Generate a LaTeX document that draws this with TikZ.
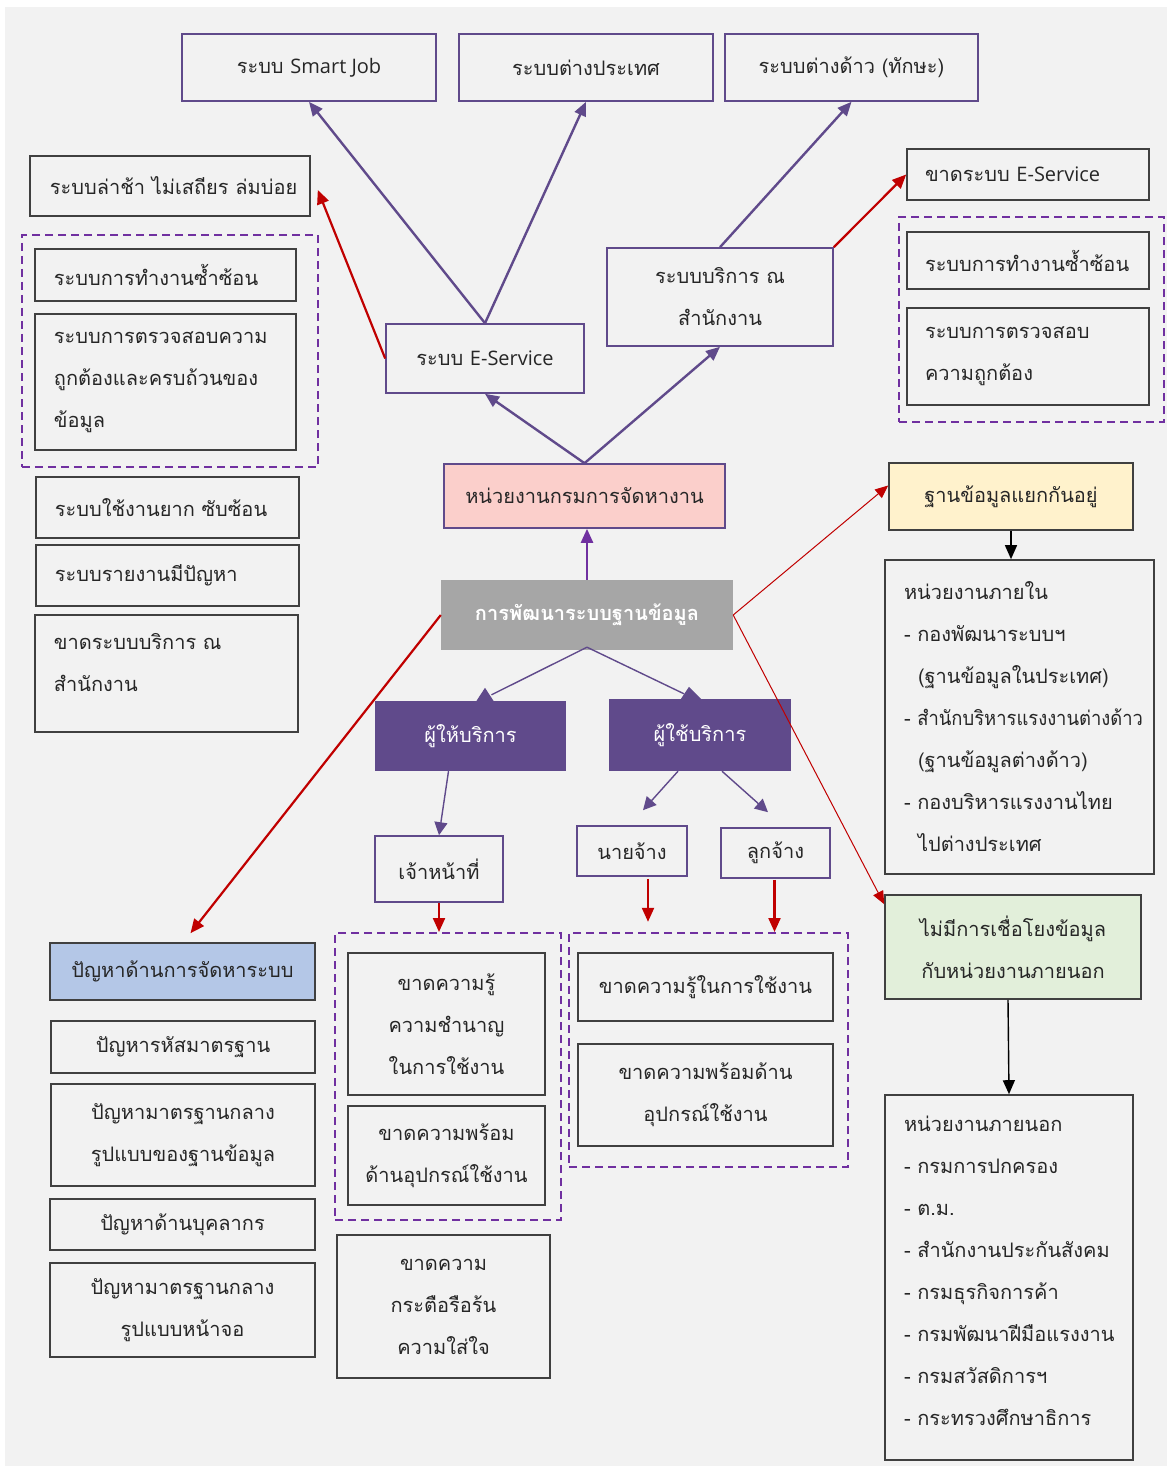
\documentclass[tikz,border=0pt]{standalone}
\usepackage{fontspec}
\usepackage{graphicx}
\setmainfont[Script=Thai]{Loma}
\newfontfamily\lat{Open Sans}
\usetikzlibrary{arrows.meta,calc}
\definecolor{bgc}{HTML}{F2F2F2}
\definecolor{pur}{HTML}{604A8B}
\definecolor{dpur}{HTML}{7030A0}
\definecolor{redc}{HTML}{C00000}
\definecolor{dk}{HTML}{404040}
\definecolor{txtc}{HTML}{262626}
\definecolor{pinkc}{HTML}{FBCFCB}
\definecolor{grayc}{HTML}{A6A6A6}
\definecolor{yelc}{HTML}{FFF2CC}
\definecolor{grnc}{HTML}{E2EFDA}
\definecolor{bluc}{HTML}{B4C7E7}
\tikzset{
  base/.style={rectangle, line width=1.6bp, inner sep=0pt, align=center, fill=bgc, text=txtc},
  pbox/.style={base, draw=pur},
  dbox/.style={base, draw=dk},
  lbox/.style={dbox, align=left},
  solid/.style={rectangle, inner sep=0pt, align=center, draw=none, text=white},
  grp/.style={rectangle, inner sep=0pt, draw=dpur, line width=2bp, dash pattern=on 8bp off 5bp},
  parr/.style={draw=pur, line width=2.4bp, -{Triangle[length=14bp,width=12bp]}},
  dparr/.style={draw=dpur, line width=2.4bp, -{Triangle[length=14bp,width=12bp]}},
  rarr/.style={draw=redc, line width=2.2bp, -{Triangle[length=14bp,width=12bp]}},
  rthin/.style={draw=redc, line width=1bp, -{Triangle[length=13bp,width=11bp]}},
  pthin/.style={draw=pur, line width=1.4bp, -{Triangle[length=13bp,width=13bp]}},
  pline/.style={draw=pur, line width=1.4bp},
  karr/.style={draw=black, line width=1.4bp, -{Triangle[length=14bp,width=12bp]}},
  tri/.style={fill=pur, draw=none},
}
\newcommand{\ind}{\hspace*{14bp}}
\begin{document}
\begin{tikzpicture}[x=1bp, y=-1bp, font=\fontsize{20bp}{42bp}\selectfont]
\useasboundingbox (0,0) rectangle (1171,1470);
\fill[white] (0,0) rectangle (1171,1470);
\fill[bgc] (5,7) rectangle (1167,1466);

% top row
\node[pbox, minimum width=254bp, minimum height=67bp] (sj) at (309,67.5) {ระบบ {\lat Smart Job}};
\node[pbox, minimum width=254bp, minimum height=67bp] (fo) at (586,67.5) {ระบบต่างประเทศ};
\node[pbox, minimum width=253bp, minimum height=67bp] (fw) at (851.5,67.5) {ระบบต่างด้าว (ทักษะ)};

% left column
\node[lbox, minimum width=280bp, minimum height=60bp, text width=240bp] (slow) at (170,186) {\mbox{ระบบล่าช้า ไม่เสถียร ล่มบ่อย}};
\node[grp, minimum width=296bp, minimum height=232bp] (gl) at (170,351) {};
\node[lbox, minimum width=261bp, minimum height=52bp, text width=223bp] (dup1) at (165.5,275) {ระบบการทำงานซ้ำซ้อน};
\node[lbox, minimum width=261bp, minimum height=136bp, text width=223bp] (chk1) at (165.5,382) {ระบบการตรวจสอบความ\\ถูกต้องและครบถ้วนของ\\ข้อมูล};
\node[lbox, minimum width=263bp, minimum height=61bp, text width=225bp] (hard) at (167.5,507.5) {\mbox{ระบบใช้งานยาก ซับซ้อน}};
\node[lbox, minimum width=263bp, minimum height=61bp, text width=225bp] (rep) at (167.5,575.5) {ระบบรายงานมีปัญหา};
\node[lbox, minimum width=263bp, minimum height=117bp, text width=225bp] (nooff) at (166.5,673.5) {\mbox{ขาดระบบบริการ ณ}\\สำนักงาน\\[-20bp]\mbox{}};

% centre
\node[pbox, minimum width=198bp, minimum height=69bp] (es) at (485,358.5) {ระบบ {\lat E-Service}};
\node[pbox, minimum width=226bp, minimum height=98bp] (off) at (720,297) {ระบบบริการ ณ\\สำนักงาน};
\node[pbox, fill=pinkc, minimum width=281bp, minimum height=64bp] (doe) at (584.5,496) {หน่วยงานกรมการจัดหางาน};
\node[solid, fill=grayc, minimum width=292bp, minimum height=70bp, font=\fontsize{20bp}{42bp}\selectfont\bfseries] (dev) at (587,615) {การพัฒนาระบบฐานข้อมูล};
\node[solid, fill=pur, minimum width=191bp, minimum height=70bp] (prov) at (470.5,736) {ผู้ให้บริการ};
\node[solid, fill=pur, minimum width=182bp, minimum height=72bp] (user) at (700,735) {ผู้ใช้บริการ};
\node[pbox, minimum width=128bp, minimum height=66bp] (staff) at (439,869) {เจ้าหน้าที่};
\node[pbox, minimum width=110bp, minimum height=50bp] (emp) at (632,851) {นายจ้าง};
\node[pbox, minimum width=109bp, minimum height=50bp] (empl) at (775.5,853) {ลูกจ้าง};

% right column
\node[lbox, minimum width=242bp, minimum height=51bp, text width=206bp] (noes) at (1028,174.5) {\mbox{ขาดระบบ {\lat E-Service}}};
\node[grp, minimum width=265bp, minimum height=205bp] (gr) at (1031.5,319.5) {};
\node[lbox, minimum width=242bp, minimum height=57bp, text width=206bp] (dup2) at (1028,260.5) {ระบบการทำงานซ้ำซ้อน};
\node[lbox, minimum width=242bp, minimum height=97bp, text width=206bp] (chk2) at (1028,356.5) {ระบบการตรวจสอบ\\ความถูกต้อง};
\node[dbox, fill=yelc, minimum width=244bp, minimum height=67bp] (sep) at (1011,496.5) {ฐานข้อมูลแยกกันอยู่};
\node[lbox, minimum width=269bp, minimum height=314bp, text width=231bp] (inner) at (1019.5,717) {หน่วยงานภายใน\\\mbox{- กองพัฒนาระบบฯ}\\\ind(ฐานข้อมูลในประเทศ)\\\mbox{- \scalebox{0.92}[1]{สำนักบริหารแรงงานต่างด้าว}}\\\ind(ฐานข้อมูลต่างด้าว)\\\mbox{- กองบริหารแรงงานไทย}\\\ind ไปต่างประเทศ};
\node[dbox, fill=grnc, minimum width=256bp, minimum height=104bp] (nolink) at (1013,947) {ไม่มีการเชื่อโยงข้อมูล\\กับหน่วยงานภายนอก};
\node[lbox, minimum width=248bp, minimum height=365bp, text width=210bp] (outer) at (1009,1277.5) {หน่วยงานภายนอก\\\mbox{- กรมการปกครอง}\\\mbox{- ต.ม.}\\\mbox{- สำนักงานประกันสังคม}\\\mbox{- กรมธุรกิจการค้า}\\\mbox{- กรมพัฒนาฝีมือแรงงาน}\\\mbox{- กรมสวัสดิการฯ}\\\mbox{- กระทรวงศึกษาธิการ}\\[-28bp]\mbox{}};

% bottom left
\node[dbox, fill=bluc, minimum width=265bp, minimum height=57bp] (prob) at (182.5,971.5) {ปัญหาด้านการจัดหาระบบ};
\node[dbox, minimum width=264bp, minimum height=52bp] (p1) at (183,1047) {ปัญหารหัสมาตรฐาน};
\node[dbox, minimum width=264bp, minimum height=102bp] (p2) at (183,1135) {ปัญหามาตรฐานกลาง\\รูปแบบของฐานข้อมูล};
\node[dbox, minimum width=265bp, minimum height=51bp] (p3) at (182.5,1224.5) {ปัญหาด้านบุคลากร};
\node[dbox, minimum width=265bp, minimum height=94bp] (p4) at (182.5,1310) {ปัญหามาตรฐานกลาง\\รูปแบบหน้าจอ};

% bottom middle
\node[grp, minimum width=226bp, minimum height=287bp] (gm1) at (448,1076.5) {};
\node[dbox, minimum width=197bp, minimum height=142bp] (k1) at (446.5,1024) {ขาดความรู้\\ความชำนาญ\\ในการใช้งาน};
\node[dbox, minimum width=197bp, minimum height=99bp] (r1) at (446.5,1155.5) {ขาดความพร้อม\\ด้านอุปกรณ์ใช้งาน};
\node[dbox, minimum width=213bp, minimum height=143bp] (en) at (443.5,1306.5) {ขาดความ\\กระตือรือร้น\\ความใส่ใจ};
\node[grp, minimum width=279bp, minimum height=234bp] (gm2) at (708.5,1050) {};
\node[dbox, minimum width=255bp, minimum height=68bp] (k2) at (705.5,987) {ขาดความรู้ในการใช้งาน};
\node[dbox, minimum width=255bp, minimum height=102bp] (r2) at (705.5,1095) {ขาดความพร้อมด้าน\\อุปกรณ์ใช้งาน};

% free ends
\coordinate (empA) at ($(user.south)+(-57,39)$);
\coordinate (emplA) at ($(user.south)+(68,41)$);

% connectors
\draw[parr] (es.north) -- (sj.south);
\draw[parr] (es.north) -- (fo.south);
\draw[parr] (off.north) -- (fw.south);
\draw[parr] (doe.north) -- (es.south);
\draw[parr] (doe.north) -- (off.south);
\draw[dparr] (dev.north) -- (dev.north |- doe.south);
\draw[rarr] (es.west) -- ($(slow.east)+(7,4)$);
\draw[rarr] (off.north east) -- (noes.west);
\draw[rarr] (dev.west) -- ($(prob.north)+(8,-9)$);
\draw[rthin] (dev.east) -- ($(sep.west)+(0,-11)$);
\draw[rthin] (dev.east) -- ($(nolink.north west)+(0,10)$);
% provider / user links
\draw[pline] ($(dev.south)+(0,-3)$) -- ($(prov.north)+(21,-6)$);
\fill[tri] ($(prov.north)+(6,0)$) -- ($(prov.north)+(14.5,-13)$) -- ($(prov.north)+(23,0)$) -- cycle;
\draw[pline] ($(dev.south)+(0,-3)$) -- ($(user.north)+(-16,-5)$);
\fill[tri] ($(user.north)+(-19,0)$) -- ($(user.north)+(-11,-12)$) -- ($(user.north)+(1,0)$) -- cycle;
\draw[pthin] ($(prov.south)+(-22,0)$) -- (staff.north);
\draw[pthin] ($(user.south)+(-22,0)$) -- (empA);
\draw[pthin] ($(user.south)+(22,0)$) -- (emplA);
\draw[rarr] (staff.south) -- (staff.south |- gm1.north);
\draw[rarr] ($(emp.south)+(16,2)$) -- ($(emp.south)+(16,45)$);
\draw[rarr] ($(empl.south)+(-1,1)$) -- ($(empl.south |- gm2.north)+(-1,0)$);
\draw[karr] (sep.south) -- (sep.south |- inner.north);
\draw[karr] ($(nolink.south)+(-5,0)$) -- (outer.north);
\end{tikzpicture}
\end{document}
